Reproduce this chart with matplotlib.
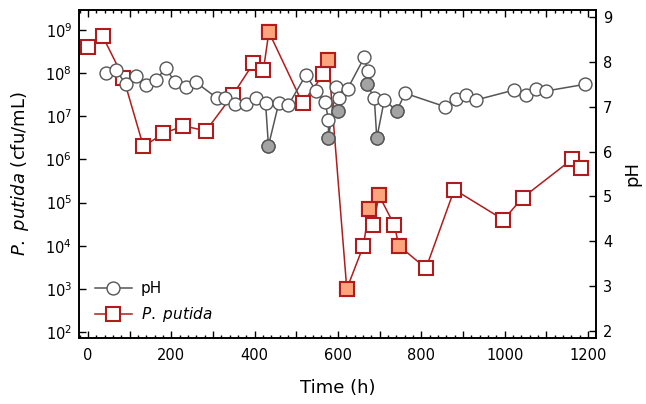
import matplotlib
matplotlib.use("Agg")
import matplotlib.pyplot as plt
from matplotlib.ticker import MultipleLocator, FixedLocator, FuncFormatter, LogFormatterMathtext

plt.rcParams["font.family"] = ["DejaVu Sans"]
plt.rcParams["mathtext.fontset"] = "dejavusans"

# P. putida counts (cfu/mL), left log axis
pp_time = [0, 35, 85, 133, 181, 229, 283, 348, 397, 421, 434, 515, 565, 577,
           621, 661, 674, 685, 698, 735, 746, 811, 879, 997, 1043, 1161, 1182]
pp_cfu = [4.1e8, 7.2e8, 7.8e7, 2.0e6, 4.0e6, 6.0e6, 4.6e6, 3.2e7, 1.7e8, 1.2e8,
          9.0e8, 2.0e7, 9.5e7, 2.0e8,
          1.0e3, 1.0e4, 7.0e4, 3.0e4, 1.5e5, 3.0e4, 1.0e4, 3.0e3, 2.0e5, 4.0e4,
          1.3e5, 1.0e6, 6.5e5]
pp_filled = [434, 577, 621, 674, 698, 746]

# pH, right axis
ph_time = [42, 67, 91, 115, 139, 163, 187, 209, 234, 258, 310, 329, 353, 378,
           402, 426, 433, 458, 481, 523, 547, 569, 577, 577, 595, 603, 601, 623,
           663, 671, 669, 687, 693, 711, 741, 761, 857, 883, 907, 931, 1022,
           1051, 1075, 1099, 1193]
ph_val = [7.75, 7.82, 7.50, 7.69, 7.49, 7.60, 7.86, 7.54, 7.45, 7.55, 7.19,
          7.19, 7.06, 7.06, 7.19, 7.09, 6.13, 7.09, 7.04, 7.71, 7.36, 7.10,
          6.71, 6.30, 7.45, 7.20, 6.91, 7.40, 8.10, 7.80, 7.51, 7.19, 6.30,
          7.15, 6.91, 7.30, 7.00, 7.17, 7.26, 7.15, 7.37, 7.26, 7.39, 7.35,
          7.50]
ph_filled_idx = [16, 23, 26, 30, 32, 34]

red = "#b01c1c"
salmon = "#fba57c"
grey_edge = "#555555"
grey_fill = "#a3a3a3"

fig = plt.figure(figsize=(6.46, 4.04), dpi=100)
ax = fig.add_axes([79 / 646, 66 / 404, 517 / 646, 328 / 404])
ax2 = ax.twinx()

# squares
ax.plot(pp_time, pp_cfu, color=red, lw=1.1, marker="s", ms=9.5,
        mfc="white", mec=red, mew=1.5, zorder=2, label=r"$\mathit{P.\ putida}$")
ft = [t for t, c in zip(pp_time, pp_cfu) if t in pp_filled]
fc = [c for t, c in zip(pp_time, pp_cfu) if t in pp_filled]
ax.plot(ft, fc, ls="none", marker="s", ms=9.5, mfc=salmon, mec=red, mew=1.5,
        zorder=3)

# circles
ax2.plot(ph_time, ph_val, color=grey_edge, lw=1.1, marker="o", ms=9.3,
         mfc="white", mec=grey_edge, mew=1.0, zorder=2, label="pH")
ax2.plot([ph_time[i] for i in ph_filled_idx], [ph_val[i] for i in ph_filled_idx],
         ls="none", marker="o", ms=9.3, mfc=grey_fill, mec=grey_edge, mew=1.0,
         zorder=3)

ax.set_yscale("log")
ax.set_ylim(10 ** 1.861, 10 ** 9.464)
ax.yaxis.set_major_locator(FixedLocator([10.0 ** k for k in range(2, 10)]))
ax.yaxis.set_major_formatter(LogFormatterMathtext())
ax.yaxis.set_minor_locator(FixedLocator([]))
ax2.set_ylim(1.844, 9.156)
ax2.yaxis.set_major_locator(MultipleLocator(1))

ax.set_xlim(-21.6, 1219)
ax.xaxis.set_major_locator(MultipleLocator(100))
ax.xaxis.set_minor_locator(MultipleLocator(20))
ax.xaxis.set_major_formatter(FuncFormatter(lambda v, p: f"{int(v)}" if int(round(v)) % 200 == 0 else ""))

ax.tick_params(axis="x", which="both", direction="in", top=True, labelsize=10.5, pad=7)
ax.tick_params(axis="x", which="major", length=5, width=1.0)
ax.tick_params(axis="x", which="minor", length=2.5, width=1.0)
ax.tick_params(axis="y", which="major", direction="in", length=5, width=1.0, labelsize=10.5, pad=5)
ax2.tick_params(axis="y", which="major", direction="in", length=5, width=1.0, labelsize=10.5, pad=5)

for a in (ax, ax2):
    for s in a.spines.values():
        s.set_linewidth(1.2)

ax.set_xlabel("Time (h)", fontsize=13, labelpad=12)
ax.set_ylabel(r"$\mathit{P.\ putida}$ (cfu/mL)", fontsize=13, labelpad=10)
ax2.set_ylabel("pH", fontsize=13, labelpad=8)

h1, l1 = ax2.get_legend_handles_labels()
h2, l2 = ax.get_legend_handles_labels()
ax.legend(h1 + h2, l1 + l2, loc="lower left", bbox_to_anchor=(0.01, 0.01),
          frameon=False, fontsize=11, handlelength=2.4, handletextpad=0.6,
          labelspacing=0.6, borderaxespad=0.3)

fig.savefig("out.png", dpi=100)
